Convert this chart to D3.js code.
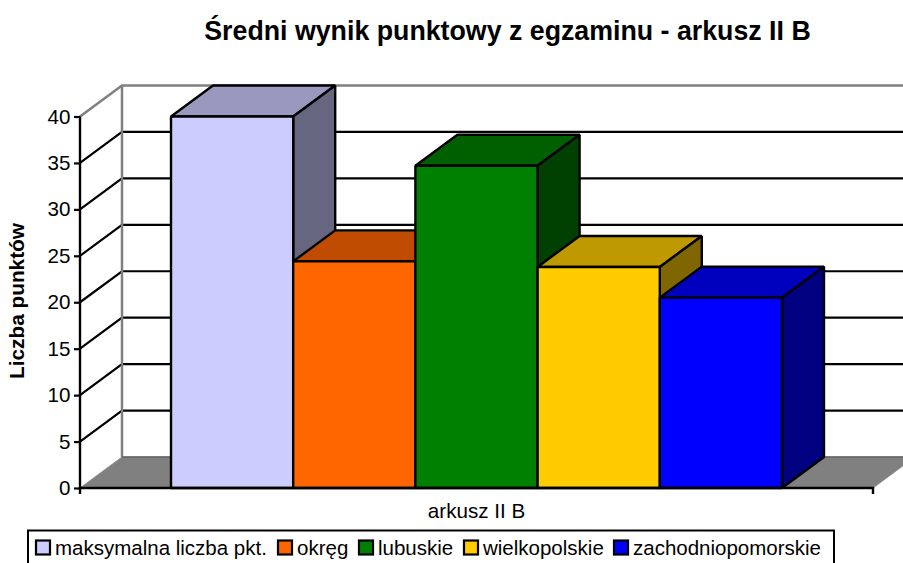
<!DOCTYPE html>
<html><head><meta charset="utf-8">
<script src="https://cdn.jsdelivr.net/npm/d3@7"></script>
<style>html,body{margin:0;padding:0;background:#fff;overflow:hidden}svg{display:block}text{font-family:"Liberation Sans",Arial,sans-serif;fill:#000}</style>
</head><body><svg id="c" width="903" height="563"></svg>
<script>
const series = ["maksymalna liczba pkt.","okręg","lubuskie","wielkopolskie","zachodniopomorskie"];
const values = [40,24.4,34.7,23.8,20.5];
const colors = ["#CCCCFF","#FF6600","#008000","#FFCC00","#0000FF"];
const topColors = ["#9999BF","#BF4C00","#006000","#BF9900","#0000BF"];
const sideColors = ["#666680","#803300","#004000","#806600","#000080"];
const ticks = [0,5,10,15,20,25,30,35,40];
const category = "arkusz II B";
const title = "Średni wynik punktowy z egzaminu - arkusz II B";
const yTitle = "Liczba punktów";

const svg = d3.select("#c");
const dx = 42, dy = -31, left = 80, right = 873;
const y = d3.scaleLinear().domain([0,40]).range([488,116.5]);
const x = d3.scaleBand().domain(series).range([171,782]);
const cat = d3.scaleBand().domain([category]).range([left,right]);
const line = d3.line();
const poly = p => line(p)+"Z";
const y0 = y(0), y40 = y(40);

// floor
svg.append("path").attr("d",poly([[left,y0],[left+dx,y0+dy],[right+dx,y0+dy],[right,y0]])).attr("fill","#808080").attr("stroke","#909090").attr("stroke-width",1);
// gridlines
ticks.filter(t=>t>0&&t<40).forEach(t=>{
  svg.append("path").attr("d",line([[left,y(t)],[left+dx,y(t)+dy],[right+dx,y(t)+dy]])).attr("fill","none").attr("stroke","#000").attr("stroke-width",2.2);
});
// walls
svg.append("path").attr("d",line([[left,y40],[left+dx,y40+dy],[right+dx,y40+dy]])).attr("fill","none").attr("stroke","#808080").attr("stroke-width",2.5);
svg.append("line").attr("x1",left+dx).attr("x2",left+dx).attr("y1",y40+dy).attr("y2",y0+dy).attr("stroke","#808080").attr("stroke-width",2.5);
svg.append("line").attr("x1",left+dx).attr("x2",right+dx).attr("y1",y0+dy).attr("y2",y0+dy).attr("stroke","#606060").attr("stroke-width",1.5);

// bars
const g = svg.append("g").attr("stroke","#000").attr("stroke-width",2.4).attr("stroke-linejoin","bevel");
series.forEach((s,i)=>{
  const x0=x(s), x1=x0+x.bandwidth(), yt=y(values[i]);
  g.append("path").attr("d",poly([[x0,yt],[x0+dx,yt+dy],[x1+dx,yt+dy],[x1,yt]])).attr("fill",topColors[i]);
  g.append("path").attr("d",poly([[x1,yt],[x1+dx,yt+dy],[x1+dx,y0+dy],[x1,y0]])).attr("fill",sideColors[i]);
  g.append("rect").attr("x",x0).attr("y",yt).attr("width",x.bandwidth()).attr("height",y0-yt).attr("fill",colors[i]);
});

// axes
const ya = svg.append("g").attr("transform",`translate(${left},0)`).call(d3.axisLeft(y).tickValues(ticks).tickSize(6).tickPadding(3.5));
ya.select(".domain").attr("d",`M0,${y40}V${y0+6}`).attr("stroke","#000").attr("stroke-width",2.4);
ya.selectAll(".tick line").attr("stroke","#000").attr("stroke-width",2.2);
ya.selectAll("text").attr("font-family",'"Liberation Sans",Arial,sans-serif').attr("font-size",20.6).attr("fill","#000");
const xa = svg.append("g").attr("transform",`translate(0,${y0})`).call(d3.axisBottom(cat).tickSize(0).tickPadding(15));
xa.select(".domain").attr("d",`M${left},0H${right}V6`).attr("stroke","#000").attr("stroke-width",2.4).attr("fill","none");
xa.selectAll("text").attr("font-family",'"Liberation Sans",Arial,sans-serif').attr("font-size",20.6).attr("fill","#000");

// titles
svg.append("text").attr("x",507.5).attr("y",40).attr("text-anchor","middle").attr("font-weight","bold").attr("font-size",26.75).text(title);
svg.append("text").attr("transform","translate(24,301) rotate(-90)").attr("text-anchor","middle").attr("font-weight","bold").attr("font-size",20.8).text(yTitle);

// legend
svg.append("rect").attr("x",28).attr("y",530.5).attr("width",806).attr("height",40).attr("fill","#fff").attr("stroke","#000").attr("stroke-width",2);
const legendX = [36,278,359,464,614];
series.forEach((s,i)=>{
  svg.append("rect").attr("x",legendX[i]).attr("y",540.5).attr("width",14).attr("height",14).attr("fill",colors[i]).attr("stroke","#000").attr("stroke-width",2.2);
  svg.append("text").attr("x",i<3&&i>0?legendX[i]+19:legendX[i]+19).attr("y",555).attr("font-size",20.5).text(s);
});
</script></body></html>
